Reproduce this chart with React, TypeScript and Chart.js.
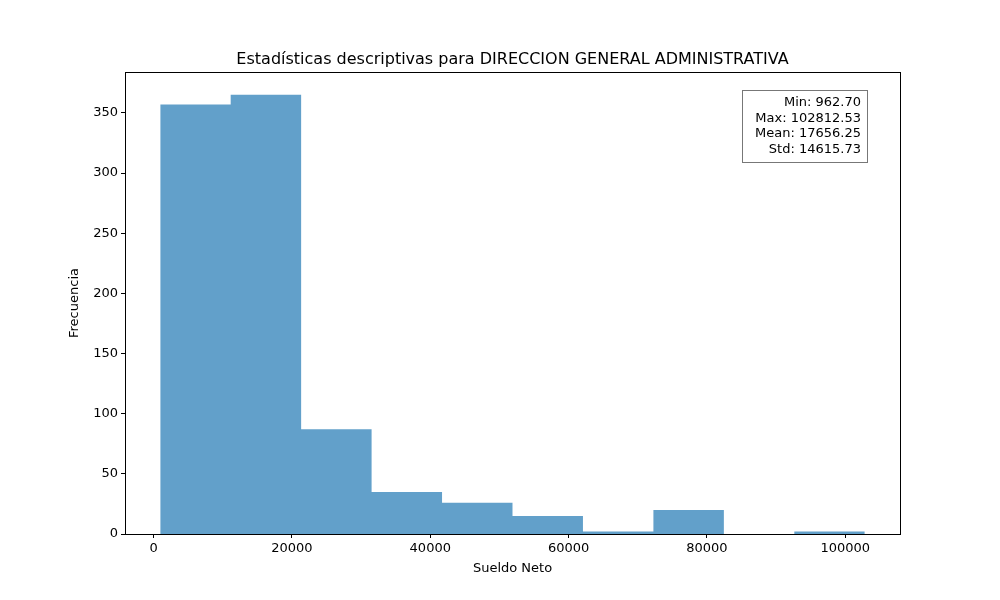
import React, { useEffect, useRef } from 'react';
import Chart from 'chart.js/auto';

const binEdges = [962.7, 11147.68, 21332.67, 31517.65, 41702.63, 51887.62, 62072.6, 72257.58, 82442.57, 92627.55, 102812.53];
const counts = [357, 365, 87, 35, 26, 15, 2, 20, 0, 2];
const statsLines = ['Min: 962.70', 'Max: 102812.53', 'Mean: 17656.25', 'Std: 14615.73'];
const titleText = 'Estadísticas descriptivas para DIRECCION GENERAL ADMINISTRATIVA';

const FONT = '"DejaVu Sans", sans-serif';

const App: React.FC = () => {
  const canvasRef = useRef<HTMLCanvasElement>(null);
  const chartRef = useRef<Chart | null>(null);

  useEffect(() => {
    if (!canvasRef.current) return;
    // histogram outline: each edge gets the previous and next bin height
    const points: { x: number; y: number }[] = [];
    binEdges.forEach((e, i) => {
      const prev = i === 0 ? 0 : counts[i - 1];
      const next = i === counts.length ? 0 : counts[i];
      points.push({ x: e, y: prev }, { x: e, y: next });
    });

    const overlay = {
      id: 'overlay',
      afterDraw(chart: any) {
        const { ctx, chartArea: a } = chart;
        ctx.save();
        ctx.strokeStyle = '#000';
        ctx.lineWidth = 1;
        ctx.strokeRect(a.left + 0.5, a.top + 0.5, a.right - a.left, a.bottom - a.top);
        ctx.fillStyle = '#000';
        ctx.font = `16px ${FONT}`;
        ctx.textAlign = 'center';
        ctx.textBaseline = 'alphabetic';
        ctx.fillText(titleText, (a.left + a.right) / 2, 64);
        // axis titles
        ctx.font = `13px ${FONT}`;
        ctx.textBaseline = 'middle';
        ctx.fillText('Sueldo Neto', (a.left + a.right) / 2, 569);
        ctx.save();
        ctx.translate(75, (a.top + a.bottom) / 2);
        ctx.rotate(-Math.PI / 2);
        ctx.fillText('Frecuencia', 0, 0);
        ctx.restore();
        // stats box
        ctx.textBaseline = 'alphabetic';
        const bx = 742, by = 90, bw = 125, bh = 72;
        ctx.fillStyle = 'rgba(255,255,255,0.8)';
        ctx.fillRect(bx, by, bw, bh);
        ctx.strokeStyle = '#777';
        ctx.strokeRect(bx + 0.5, by + 0.5, bw, bh);
        ctx.fillStyle = '#000';
        ctx.textAlign = 'right';
        statsLines.forEach((s, i) => ctx.fillText(s, bx + bw - 6, by + 16 + i * 15.5));
        ctx.restore();
      },
    };

    chartRef.current = new Chart(canvasRef.current, {
      type: 'line',
      data: {
        datasets: [
          {
            data: points,
            fill: 'origin',
            backgroundColor: 'rgba(31,119,180,0.7)',
            borderWidth: 0,
            pointRadius: 0,
            tension: 0,
          },
        ],
      },
      options: {
        responsive: false,
        animation: false,
        layout: { padding: { left: 0, right: 100, top: 72, bottom: 0 } },
        plugins: { legend: { display: false }, tooltip: { enabled: false }, title: { display: false } },
        scales: {
          x: {
            type: 'linear',
            min: -4130,
            max: 107905,
            grid: { display: true, drawOnChartArea: false, tickLength: 4, color: '#000' },
            border: { display: false },
            afterBuildTicks: (s: any) => {
              s.ticks = [0, 20000, 40000, 60000, 80000, 100000].map((v) => ({ value: v }));
            },
            afterFit: (s: any) => { s.height = 66; },
            ticks: { color: '#000', font: { family: FONT, size: 13 }, maxRotation: 0, callback: (v: any) => String(v) },
          },
          y: {
            min: 0,
            max: 384,
            grid: { display: true, drawOnChartArea: false, tickLength: 4, color: '#000' },
            border: { display: false },
            afterBuildTicks: (s: any) => {
              s.ticks = [0, 50, 100, 150, 200, 250, 300, 350].map((v) => ({ value: v }));
            },
            afterFit: (s: any) => { s.width = 125; },
            ticks: { color: '#000', font: { family: FONT, size: 13 } },
          },
        },
      },
      plugins: [overlay],
    });

    return () => {
      chartRef.current?.destroy();
    };
  }, []);

  return (
    <div style={{ position: 'fixed', left: 0, top: 0, width: 1000, height: 600, background: '#fff' }}>
      <canvas ref={canvasRef} width={1000} height={600}></canvas>
    </div>
  );
};

export default App;
